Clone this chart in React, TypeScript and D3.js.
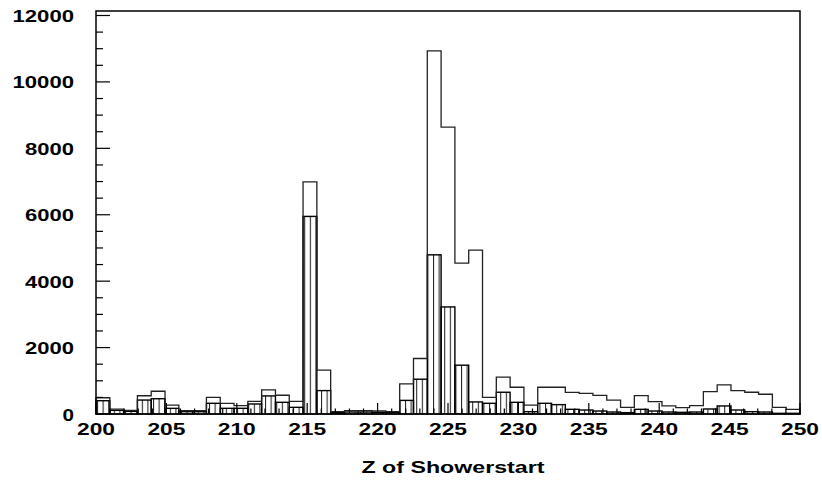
import React, { useEffect, useRef } from 'react'
import * as d3 from 'd3'

// 51 bins between 200 and 250
const nBins = 51
const xMin = 200
const xMax = 250

// open histogram (all showers)
const allCounts = [
  490, 145, 110, 550, 685, 265, 100, 100, 503, 322,
  252, 383, 725, 564, 383, 6990, 1320, 70, 100, 100,
  90, 70, 906, 1672, 10937, 8640, 4542, 4935, 503, 1108,
  805, 270, 805, 805, 650, 620, 560, 420, 200, 555,
  375, 245, 191, 252, 675, 876, 705, 655, 594, 201,
  141,
]

// hatched histogram
const hatchCounts = [
  400, 110, 80, 420, 460, 170, 70, 70, 322, 171,
  171, 302, 544, 352, 201, 5950, 705, 40, 60, 60,
  50, 50, 410, 1048, 4793, 3224, 1470, 363, 322, 655,
  352, 70, 322, 282, 141, 120, 90, 60, 40, 141,
  90, 60, 50, 60, 151, 242, 121, 70, 60, 20,
  20,
]

const yTicks = [0, 2000, 4000, 6000, 8000, 10000, 12000]
const xTicks = [200, 205, 210, 215, 220, 225, 230, 235, 240, 245, 250]
const xTitle = 'Z of Showerstart'

export default function App() {
  const ref = useRef<SVGSVGElement>(null)

  useEffect(() => {
    const svg = d3.select(ref.current)
    svg.selectAll('*').remove()

    const left = 96, right = 800, top = 11, bottom = 414
    const x = d3.scaleLinear().domain([xMin, xMax]).range([left, right])
    const y = d3.scaleLinear().domain([0, 12000]).range([bottom, 15.5])
    const bw = (xMax - xMin) / nBins
    const edges = d3.range(nBins + 1).map(i => xMin + i * bw)

    // vertical hatching
    const pat = svg.append('defs').append('pattern')
      .attr('id', 'vhatch')
      .attr('patternUnits', 'userSpaceOnUse')
      .attr('x', left + 1)
      .attr('width', 5.6).attr('height', 10)
    pat.append('line')
      .attr('x1', 0.5).attr('x2', 0.5)
      .attr('y1', 0).attr('y2', 10)
      .attr('stroke', '#222').attr('stroke-width', 1.1)

    // hatched bars
    svg.append('g').selectAll('rect')
      .data(hatchCounts)
      .enter()
      .append('rect')
      .attr('x', (d, i) => x(edges[i]))
      .attr('width', (d, i) => x(edges[i + 1]) - x(edges[i]))
      .attr('y', d => y(d))
      .attr('height', d => bottom - y(d))
      .attr('fill', 'url(#vhatch)')
      .attr('stroke', '#000')
      .attr('stroke-width', 1.4)

    // open histogram as a step line
    const pts: [number, number][] = [[edges[0], 0]]
    allCounts.forEach((c, i) => {
      pts.push([edges[i], c])
      pts.push([edges[i + 1], c])
    })
    pts.push([edges[nBins], 0])
    const line = d3.line<[number, number]>().x(d => x(d[0])).y(d => y(d[1]))
    svg.append('path')
      .attr('d', line(pts))
      .attr('fill', 'none')
      .attr('stroke', '#222')
      .attr('stroke-width', 1.3)

    // frame
    svg.append('rect')
      .attr('x', left).attr('y', top)
      .attr('width', right - left).attr('height', bottom - top)
      .attr('fill', 'none').attr('stroke', '#000').attr('stroke-width', 1.5)

    // y ticks
    const g = svg.append('g').attr('stroke', '#000').attr('stroke-width', 1.2)
    d3.range(0, 12001, 500).forEach(v => {
      const major = v % 2000 === 0
      g.append('line')
        .attr('x1', left).attr('x2', left + (major ? 14 : 7))
        .attr('y1', y(v)).attr('y2', y(v))
    })
    // x ticks
    d3.range(xMin, xMax + 1, 1).forEach(v => {
      const major = v % 5 === 0
      g.append('line')
        .attr('x1', x(v)).attr('x2', x(v))
        .attr('y1', bottom).attr('y2', bottom - (major ? 11 : 5.5))
    })

    const font = "'Liberation Sans', Arial, sans-serif"
    svg.append('g').selectAll('text')
      .data(yTicks)
      .enter()
      .append('text')
      .attr('x', 74)
      .attr('y', d => y(d) + 6.5)
      .attr('text-anchor', 'end')
      .attr('font-family', font)
      .attr('font-weight', 'bold')
      .attr('font-size', 17)
      .attr('textLength', d => String(d).length * 12.5 - 1)
      .attr('lengthAdjust', 'spacingAndGlyphs')
      .text(d => d)

    svg.append('g').selectAll('text')
      .data(xTicks)
      .enter()
      .append('text')
      .attr('x', d => x(d))
      .attr('y', 435)
      .attr('text-anchor', 'middle')
      .attr('font-family', font)
      .attr('font-weight', 'bold')
      .attr('font-size', 17)
      .attr('textLength', 38)
      .attr('lengthAdjust', 'spacingAndGlyphs')
      .text(d => d)

    svg.append('text')
      .attr('x', 453)
      .attr('y', 473)
      .attr('text-anchor', 'middle')
      .attr('font-family', font)
      .attr('font-weight', 'bold')
      .attr('font-size', 16.5)
      .attr('textLength', 183)
      .attr('lengthAdjust', 'spacingAndGlyphs')
      .text(xTitle)
  }, [])

  return (
    <div style={{ position: 'fixed', left: 0, top: 0, background: '#fff' }}>
      <svg ref={ref} width={822} height={481} style={{ display: 'block' }} />
    </div>
  )
}
